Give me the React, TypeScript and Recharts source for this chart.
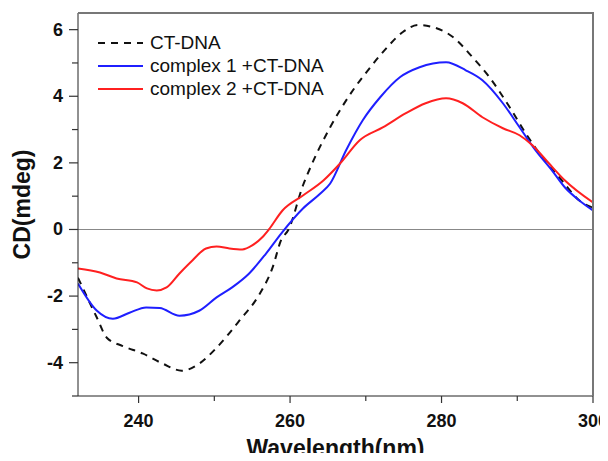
import { LineChart, Line, XAxis, YAxis, ReferenceLine, CartesianGrid } from "recharts";

// CD spectra (wavelength in nm, CD in mdeg)
const ctDnaNm = [232, 234.5, 235.8, 237.9, 240.6, 243.2, 245.7, 248, 250.3, 253.3, 256, 257.7, 258.8, 259.8, 261.7, 262.7, 265.3, 268.3, 270.6, 272.7, 274.9, 276.9, 278.8, 281.5, 284.1, 286.3, 289, 291.1, 293.3, 295.9, 298.2, 300];
const ctDnaCd = [-1.45, -2.65, -3.25, -3.5, -3.73, -4.03, -4.24, -4.03, -3.55, -2.74, -1.93, -1.14, -0.33, 0, 1.32, 1.87, 3.07, 4.18, 4.87, 5.44, 5.93, 6.14, 6.08, 5.78, 5.17, 4.58, 3.67, 2.89, 2.17, 1.47, 0.87, 0.65];

const complex1Nm = [232, 234.5, 236.6, 238.8, 241, 242.8, 245.4, 248, 250.3, 252.4, 254.6, 256.8, 258.8, 261.7, 264, 265.3, 267.4, 269.6, 271.9, 274.5, 277.1, 280.6, 283.2, 285.4, 288.1, 290.3, 292.4, 294.6, 296.3, 298.2, 300];
const complex1Cd = [-1.62, -2.44, -2.68, -2.5, -2.34, -2.36, -2.59, -2.44, -2.04, -1.73, -1.32, -0.73, -0.13, 0.63, 1.08, 1.38, 2.38, 3.28, 3.97, 4.57, 4.87, 5.02, 4.78, 4.48, 3.79, 3.07, 2.38, 1.77, 1.26, 0.87, 0.57];

const complex2Nm = [232, 234.9, 237.1, 239.8, 241.1, 242.4, 243.7, 245.4, 247.1, 248.9, 250.3, 252, 253.7, 255, 256.3, 257.2, 259, 261.7, 264.4, 266.6, 269.2, 272.3, 275.3, 277.9, 280.6, 282.8, 285.4, 288.1, 290.3, 292, 294.2, 296.3, 300];
const complex2Cd = [-1.17, -1.29, -1.47, -1.59, -1.77, -1.83, -1.74, -1.32, -0.93, -0.57, -0.51, -0.57, -0.6, -0.48, -0.24, 0, 0.57, 1.02, 1.47, 1.98, 2.68, 3.07, 3.49, 3.79, 3.94, 3.79, 3.37, 3.04, 2.83, 2.53, 1.98, 1.47, 0.81];

const xTicks = [240, 250, 260, 270, 280, 290, 300];
const yTicks = [-5, -4, -3, -2, -1, 0, 1, 2, 3, 4, 5, 6];
const xDomain = [232, 300];
const yDomain = [-5, 6.5];

const seriesNames = ["CT-DNA", "complex 1 +CT-DNA", "complex 2 +CT-DNA"];

const zip = (xs: number[], ys: number[]) => xs.map((x, i) => ({ x, y: ys[i] }));
const ctDna = zip(ctDnaNm, ctDnaCd);
const complex1 = zip(complex1Nm, complex1Cd);
const complex2 = zip(complex2Nm, complex2Cd);

const FONT = "'Liberation Sans', Arial, sans-serif";
const BLUE = "#1f1fff";
const RED = "#ff2020";

// chart box
const W = 608;
const H = 461;
const M = { top: 13, right: 15, left: 0, bottom: 0 };
const Y_AXIS_W = 78;
const X_AXIS_H = 65;

const XTick = (props: any) => {
  const { x, y, payload } = props;
  const major = payload.value % 20 === 0;
  return (
    <g>
      <line x1={x} x2={x} y1={y} y2={y + (major ? 7 : 5)} stroke="#333" strokeWidth={1.2} />
      {major && (
        <text x={x} y={y + 31} textAnchor="middle" fontFamily={FONT} fontWeight="bold" fontSize={18} fill="#111">
          {payload.value}
        </text>
      )}
    </g>
  );
};

const YTick = (props: any) => {
  const { x, y, payload } = props;
  const major = payload.value % 2 === 0;
  return (
    <g>
      <line x1={x} x2={x - (major ? 9 : 6)} y1={y} y2={y} stroke="#333" strokeWidth={1.2} />
      {major && (
        <text x={x - 15} y={y} textAnchor="end" dominantBaseline="central" fontFamily={FONT} fontWeight="bold" fontSize={18} fill="#111">
          {payload.value}
        </text>
      )}
    </g>
  );
};

const legendStyles = [
  { stroke: "#111", dash: "7 6" },
  { stroke: BLUE, dash: undefined },
  { stroke: RED, dash: undefined },
];

const LegendBox = () => (
  <div style={{ position: "absolute", left: 98, top: 31, fontFamily: FONT, fontSize: 19, color: "#111", lineHeight: "23px" }}>
    {seriesNames.map((name, i) => (
      <div key={name} style={{ display: "flex", alignItems: "center", height: 23 }}>
        <svg width={52} height={10}>
          <line x1={0} x2={45} y1={5} y2={5} stroke={legendStyles[i].stroke} strokeWidth={2} strokeDasharray={legendStyles[i].dash} />
        </svg>
        <span>{name}</span>
      </div>
    ))}
  </div>
);

// grey top/right edges of the plot frame
const Frame = () => (
  <div
    style={{
      position: "absolute",
      left: M.left + Y_AXIS_W,
      top: M.top - 1,
      width: W - M.left - M.right - Y_AXIS_W + 1,
      height: H - M.top - M.bottom - X_AXIS_H + 1,
      borderTop: "2px solid #777",
      borderRight: "2px solid #777",
      boxSizing: "border-box",
      pointerEvents: "none",
      zIndex: 2,
    }}
  />
);

export default function App() {
  return (
    <div style={{ position: "relative", margin: -8, width: W, height: H, background: "#fff" }}>
      <LineChart width={W} height={H} margin={M}>
        <CartesianGrid horizontal={false} vertical={false} stroke="#777" fill="none" />
        <XAxis
          dataKey="x"
          type="number"
          domain={xDomain}
          ticks={xTicks}
          allowDataOverflow
          height={X_AXIS_H}
          stroke="#222"
          tickLine={false}
          tickSize={0}
          tickMargin={0}
          tick={<XTick />}
          label={{
            value: "Wavelength(nm)",
            position: "insideBottom",
            offset: 5,
            style: { fontFamily: FONT, fontWeight: "bold", fontSize: 23, fill: "#111" },
          }}
        />
        <YAxis
          type="number"
          domain={yDomain}
          ticks={yTicks}
          allowDataOverflow
          width={Y_AXIS_W}
          stroke="#222"
          tickLine={false}
          tickSize={0}
          tickMargin={0}
          tick={<YTick />}
          label={{
            value: "CD(mdeg)",
            angle: -90,
            position: "insideLeft",
            offset: 22,
            style: { fontFamily: FONT, fontWeight: "bold", fontSize: 23, fill: "#111", textAnchor: "middle" },
          }}
        />
        <ReferenceLine y={0} stroke="#888" strokeWidth={1.2} />
        <ReferenceLine y={yDomain[1]} stroke="#777" strokeWidth={2} ifOverflow="extendDomain" />
        <ReferenceLine x={xDomain[1]} stroke="#777" strokeWidth={2} ifOverflow="extendDomain" />
        <Line data={ctDna} dataKey="y" name={seriesNames[0]} type="monotone" stroke="#111" strokeWidth={2} strokeDasharray="7 6" dot={false} isAnimationActive={false} />
        <Line data={complex1} dataKey="y" name={seriesNames[1]} type="monotone" stroke={BLUE} strokeWidth={2} dot={false} isAnimationActive={false} />
        <Line data={complex2} dataKey="y" name={seriesNames[2]} type="monotone" stroke={RED} strokeWidth={2} dot={false} isAnimationActive={false} />
      </LineChart>
      <Frame />
      <LegendBox />
    </div>
  );
}
